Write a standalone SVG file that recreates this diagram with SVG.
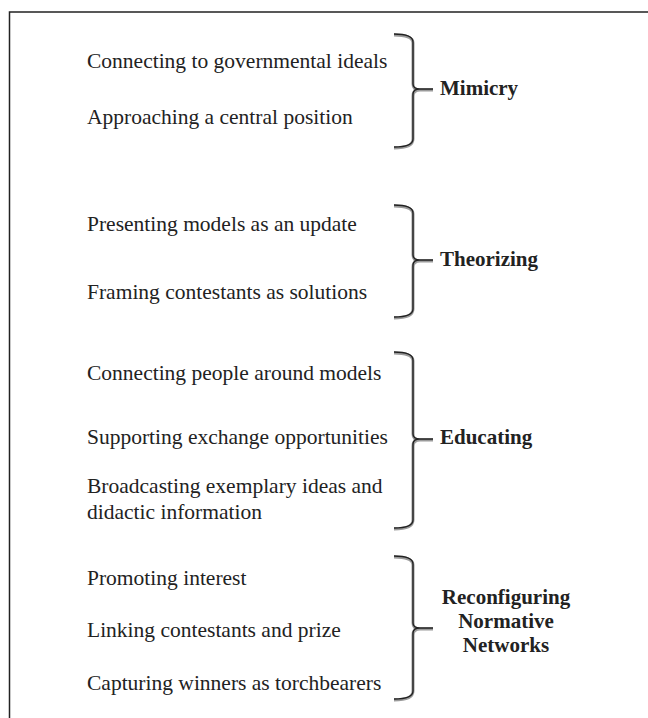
<svg xmlns="http://www.w3.org/2000/svg" width="648" height="718" viewBox="0 0 648 718">
  <style>
    .item { font-family: "Liberation Serif", "Times New Roman", serif; font-size: 21.5px; fill: #222; }
    .label { font-family: "Liberation Serif", "Times New Roman", serif; font-size: 21px; font-weight: bold; fill: #222; }
    .mid { text-anchor: middle; }
    .brace-shadow { fill: none; stroke: #9a9a9a; stroke-width: 3; }
    .brace { fill: none; stroke: #222; stroke-width: 1.4; }
    .frame { fill: none; stroke: #222; stroke-width: 1.5; }
  </style>
  <rect width="648" height="718" fill="#fff"/>
  <!-- open frame: top and left edges only -->
  <path class="frame" d="M9.5,718 V12 H648"/>

  <g id="connectors">
    <path class="brace-shadow" d="M394,35 Q413,35 413,43 V84 Q413,90 420,90 H433 M420,90 Q413,90 413,96 V139 Q413,148 394,148"/>
    <path class="brace" d="M394,34 Q413,34 413,42 V84 Q413,89 420,89 H433 M420,89 Q413,89 413,94 V139 Q413,147 394,147"/>

    <path class="brace-shadow" d="M394,206 Q413,206 413,214 V255 Q413,261 420,261 H433 M420,261 Q413,261 413,267 V309 Q413,318 394,318"/>
    <path class="brace" d="M394,205 Q413,205 413,213 V255 Q413,260 420,260 H433 M420,260 Q413,260 413,265 V309 Q413,317 394,317"/>

    <path class="brace-shadow" d="M394,353 Q413,353 413,361 V434 Q413,440 420,440 H433 M420,440 Q413,440 413,446 V520 Q413,529 394,529"/>
    <path class="brace" d="M394,352 Q413,352 413,360 V434 Q413,439 420,439 H433 M420,439 Q413,439 413,444 V520 Q413,528 394,528"/>

    <path class="brace-shadow" d="M394,557 Q413,557 413,565 V623 Q413,629 420,629 H433 M420,629 Q413,629 413,635 V691 Q413,700 394,700"/>
    <path class="brace" d="M394,556 Q413,556 413,564 V623 Q413,628 420,628 H433 M420,628 Q413,628 413,633 V691 Q413,699 394,699"/>
  </g>

  <g id="mimicry">
    <text class="item" x="87" y="68">Connecting to governmental ideals</text>
    <text class="item" x="87" y="124">Approaching a central position</text>
    <text class="label" x="440" y="95">Mimicry</text>
  </g>

  <g id="theorizing">
    <text class="item" x="87" y="231">Presenting models as an update</text>
    <text class="item" x="87" y="299">Framing contestants as solutions</text>
    <text class="label" x="440" y="266">Theorizing</text>
  </g>

  <g id="educating">
    <text class="item" x="87" y="380">Connecting people around models</text>
    <text class="item" x="87" y="444">Supporting exchange opportunities</text>
    <text class="item" x="87" y="493">Broadcasting exemplary ideas and</text>
    <text class="item" x="87" y="519">didactic information</text>
    <text class="label" x="440" y="444">Educating</text>
  </g>

  <g id="reconfiguring">
    <text class="item" x="87" y="585">Promoting interest</text>
    <text class="item" x="87" y="637">Linking contestants and prize</text>
    <text class="item" x="87" y="690">Capturing winners as torchbearers</text>
    <text class="label mid" x="506" y="604">Reconfiguring</text>
    <text class="label mid" x="506" y="628">Normative</text>
    <text class="label mid" x="506" y="652">Networks</text>
  </g>
</svg>
